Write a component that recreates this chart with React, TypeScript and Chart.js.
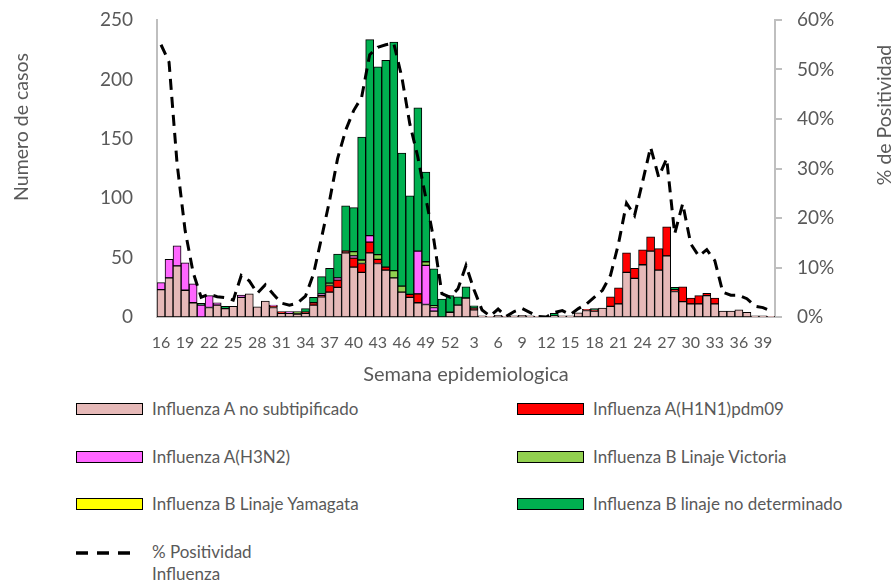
import React, { useEffect, useRef } from "react";
import { Chart, registerables } from "chart.js";

Chart.register(...registerables);

// ---------- DATA ----------
const weeks: string[] = [
  "16", "17", "18", "19", "20", "21", "22", "23", "24", "25", "26", "27", "28", "29", "30",
  "31", "32", "33", "34", "35", "36", "37", "38", "39", "40", "41", "42", "43", "44", "45",
  "46", "47", "48", "49", "50", "51", "52",
  "1", "2", "3", "4", "5", "6", "7", "8", "9", "10", "11", "12", "13", "14", "15",
  "16", "17", "18", "19", "20", "21", "22", "23", "24", "25", "26", "27", "28", "29", "30",
  "31", "32", "33", "34", "35", "36", "37", "38", "39", "40",
];

const fluANoSubtip: number[] = [
  23, 33, 43, 22.5, 12, 0, 8, 10, 7, 9, 16.5, 19.5, 8.5, 13.5, 8,
  3, 3, 2.5, 3, 10, 17, 21, 25, 54, 42, 37.5, 54, 45, 39.5, 33,
  21, 16.5, 12, 10.5, 5, 0, 4,
  10, 16, 6, 1, 0.5, 1.5, 0.5, 1, 1.5, 1, 0.5, 0.5, 1, 1, 1,
  3.5, 5.5, 5, 7.5, 9, 11, 37.5, 32.5, 44, 55.5, 39.5, 51.5, 21.5, 13, 11,
  11, 18, 11, 5, 5, 6, 4, 1, 1, 0.5,
];

const fluAH1N1: number[] = [
  0, 0, 0, 0, 0, 0, 0, 0, 0, 0, 0, 0, 0, 0, 1,
  1.5, 0, 0, 1, 2, 1, 5.5, 6, 1.5, 7.5, 7.5, 9, 3.5, 2.5, 0,
  0, 2.5, 7.5, 0, 0, 0, 0,
  0, 0, 1.5, 0, 0, 0, 0, 0, 0, 0, 0, 0, 0, 0, 0,
  0, 1, 1, 0, 8, 13.5, 16.5, 8.5, 12.5, 12, 18, 24.5, 1.5, 12.5, 5,
  7, 2, 5, 0, 0, 0, 0, 0, 0, 0,
];

const fluAH3N2: number[] = [
  6, 15.5, 17, 23, 16, 10, 10, 2, 0, 0, 2, 0, 0, 0, 1,
  0, 1.5, 0, 0, 0, 1.5, 0, 2, 0, 2, 0, 5.5, 0, 0, 0,
  0, 0, 36, 33, 3, 0, 0,
  0, 0, 0, 0, 0, 0, 0, 0, 0, 0, 0, 0, 0, 0, 0,
  0, 0, 0, 0, 0, 0, 0, 0, 0, 0, 0, 0, 0, 0, 0,
  0, 0, 0, 0, 0, 0, 0, 0, 0, 0,
];

const fluBVictoria: number[] = [
  0, 0, 0, 0, 0, 0, 0, 0, 0, 0, 0, 0, 0, 0, 0,
  0, 0, 2, 0, 0, 0, 2, 0, 0, 3.5, 3, 0, 4, 0, 6,
  5, 0, 0, 3, 1.5, 0, 0,
  0, 0, 0, 0, 0, 0, 0, 0, 0, 0, 0, 0, 0, 0, 0,
  0, 0, 0, 0, 0, 0, 0, 0, 0, 0, 0, 0, 0, 0, 0,
  0, 0, 0, 0, 0, 0, 0, 0, 0, 0,
];

const fluBYamagata: number[] = [
  0, 0, 0, 0, 0, 0, 0, 0, 0, 0, 0, 0, 0, 0, 0,
  0, 0, 0, 0, 0, 0, 0, 0, 0, 0, 0, 0, 0, 0, 0,
  0, 0, 0, 0, 0, 0, 0,
  0, 0, 0, 0, 0, 0, 0, 0, 0, 0, 0, 0, 0, 0, 0,
  0, 0, 0, 0, 0, 0, 0, 0, 0, 0, 0, 0, 0, 0, 0,
  0, 0, 0, 0, 0, 0, 0, 0, 0, 0,
];

const fluBNoDeterminado: number[] = [
  0, 0, 0, 0, 0, 1.5, 0, 0, 2, 0, 0, 0, 0, 0, 0,
  0, 0, 0, 3, 4.5, 14.5, 12.5, 20, 38, 37, 103.5, 165, 158, 174, 192.5,
  112, 83, 120.5, 75.5, 31, 15, 14,
  7, 9.5, 2, 0, 0, 0, 0, 0, 0, 0, 0, 0, 2, 0, 0,
  0, 0, 1, 0, 0, 0, 0, 0, 0, 0, 0, 0, 2, 0, 0,
  0, 0, 0, 0, 0, 0, 0, 0, 0, 0,
];

const positividad: number[] = [
  55, 51.5, 31, 17.5, 9, 4, 4.6, 4.1, 3.9, 3.4, 8.4, 7.3, 4.8, 6.5, 4.6,
  2.8, 2.4, 2.8, 4.2, 8.7, 16, 23.5, 32, 37.7, 41.7, 44.4, 53, 54.5, 55, 55.3,
  48.5, 39, 32.3, 24, 15.5, 4.7, 4,
  5.7, 10.4, 5.5, 1.4, 0.2, 1.6, 0.1, 1.1, 1.7, 0.9, 0.1, 0, 0.9, 1.3, 0.5,
  1.7, 2.6, 4, 5.4, 8.4, 14.8, 23, 20.5, 27.3, 34.3, 28.3, 32, 16.8, 22.9, 14.8,
  12.3, 13.6, 11.4, 5, 4.4, 4.4, 3.7, 2.2, 1.9, 1.2,
];

const leftTicks = { min: 0, max: 250, step: 50 };
const rightTicks = { min: 0, max: 60, step: 10 };

// ---------- STYLE ----------
const FONT = "Lato, 'Open Sans', sans-serif";
const TEXT = "#595959";
const AXIS = "#BFBFBF";

const series = [
  { label: "Influenza A no subtipificado", data: fluANoSubtip, color: "#E6B9B8" },
  { label: "Influenza A(H1N1)pdm09", data: fluAH1N1, color: "#FF0000" },
  { label: "Influenza A(H3N2)", data: fluAH3N2, color: "#FF66FF" },
  { label: "Influenza B Linaje Victoria", data: fluBVictoria, color: "#92D050" },
  { label: "Influenza B Linaje Yamagata", data: fluBYamagata, color: "#FFFF00" },
  { label: "Influenza B linaje no determinado", data: fluBNoDeterminado, color: "#00B050" },
];

const titlesPlugin = {
  id: "axisTitles",
  afterDraw(chart: any) {
    const { ctx, chartArea } = chart;
    ctx.save();
    ctx.fillStyle = TEXT;
    ctx.textAlign = "center";
    ctx.textBaseline = "middle";
    ctx.font = `19.5px ${FONT}`;
    // left title
    ctx.save();
    ctx.translate(22, 127);
    ctx.rotate(-Math.PI / 2);
    ctx.fillText("Numero de casos", 0, 0);
    ctx.restore();
    // right title
    ctx.save();
    ctx.translate(885, 115);
    ctx.rotate(-Math.PI / 2);
    ctx.fillText("% de Positividad", 0, 0);
    ctx.restore();
    // x title
    ctx.font = `20px ${FONT}`;
    ctx.fillText("Semana epidemiologica", (chartArea.left + chartArea.right) / 2, 375);
    ctx.restore();
  },
};

function ChartCanvas() {
  const ref = useRef<HTMLCanvasElement | null>(null);
  useEffect(() => {
    if (!ref.current) return;
    const chart = new Chart(ref.current, {
      type: "bar",
      data: {
        labels: weeks,
        datasets: [
          {
            type: "line",
            label: "% Positividad Influenza",
            data: positividad,
            yAxisID: "y1",
            borderColor: "#000000",
            borderWidth: 3,
            borderDash: [11, 7],
            pointRadius: 0,
            tension: 0,
            fill: false,
            order: 0,
          } as any,
          ...series.map((s) => ({
            type: "bar",
            label: s.label,
            data: s.data,
            backgroundColor: s.color,
            borderColor: "#000000",
            borderWidth: 1,
            borderSkipped: false,
            barPercentage: 1,
            categoryPercentage: 1,
            yAxisID: "y",
            order: 1,
          })),
        ],
      },
      options: {
        animation: false,
        responsive: true,
        maintainAspectRatio: false,
        layout: { padding: { top: 20, left: 0, right: 0, bottom: 0 } },
        plugins: {
          legend: { display: false },
          tooltip: { enabled: false },
          title: { display: false },
        },
        scales: {
          x: {
            stacked: true,
            grid: { display: false, drawTicks: false },
            border: { display: true, color: AXIS, width: 2 },
            ticks: {
              autoSkip: false,
              maxRotation: 0,
              minRotation: 0,
              padding: 16,
              color: TEXT,
              font: { family: FONT, size: 16 },
              callback: (_v: any, i: number) => (i % 3 === 0 ? weeks[i] : ""),
            },
            afterFit: (s: any) => {
              s.height = 73;
              s.paddingLeft = 0;
              s.paddingRight = 0;
            },
          },
          y: {
            position: "left",
            stacked: true,
            min: leftTicks.min,
            max: leftTicks.max,
            grid: { display: false, drawTicks: false },
            border: { display: true, color: AXIS, width: 2 },
            ticks: {
              stepSize: leftTicks.step,
              padding: 24,
              color: TEXT,
              font: { family: FONT, size: 19 },
            },
            afterFit: (s: any) => {
              s.width = 157;
              s.paddingTop = 0;
              s.paddingBottom = 0;
            },
          },
          y1: {
            position: "right",
            min: rightTicks.min,
            max: rightTicks.max,
            grid: {
              display: true,
              drawOnChartArea: false,
              drawTicks: true,
              tickLength: 7,
              color: AXIS,
              lineWidth: 2,
            },
            border: { display: true, color: AXIS, width: 2 },
            ticks: {
              stepSize: rightTicks.step,
              padding: 15,
              color: TEXT,
              font: { family: FONT, size: 19 },
              callback: (v: any) => `${v}%`,
            },
            afterFit: (s: any) => {
              s.width = 120;
              s.paddingTop = 0;
              s.paddingBottom = 0;
            },
          },
        },
      },
      plugins: [titlesPlugin],
    });
    return () => chart.destroy();
  }, []);
  return <canvas ref={ref} />;
}

function LegendBox({ x, y, color, label }: { x: number; y: number; color: string; label: string }) {
  return (
    <>
      <div
        style={{
          position: "absolute",
          left: x,
          top: y - 6,
          width: 67,
          height: 12,
          boxSizing: "border-box",
          border: "1px solid #000",
          background: color,
        }}
      />
      <div
        style={{
          position: "absolute",
          left: x + 76,
          top: y - 11,
          height: 22,
          lineHeight: "22px",
          fontSize: 17,
          color: TEXT,
          whiteSpace: "nowrap",
        }}
      >
        {label}
      </div>
    </>
  );
}

export default function App() {
  const rows = [409, 457, 504];
  return (
    <div
      style={{
        position: "fixed",
        left: 0,
        top: 0,
        width: 895,
        height: 585,
        background: "#fff",
        fontFamily: FONT,
        overflow: "hidden",
      }}
    >
      <div style={{ position: "absolute", left: 0, top: 0, width: 895, height: 390 }}>
        <ChartCanvas />
      </div>
      {series.map((s, i) => (
        <LegendBox
          key={s.label}
          x={i % 2 === 0 ? 76 : 517}
          y={rows[Math.floor(i / 2)]}
          color={s.color}
          label={s.label}
        />
      ))}
      <svg style={{ position: "absolute", left: 76, top: 548 }} width={60} height={10}>
        <line x1={0} y1={5} x2={57} y2={5} stroke="#000" strokeWidth={3.5} strokeDasharray="12 9" />
      </svg>
      <div
        style={{
          position: "absolute",
          left: 152,
          top: 541,
          lineHeight: "22px",
          fontSize: 17,
          color: TEXT,
        }}
      >
        % Positividad
        <br />
        Influenza
      </div>
    </div>
  );
}
